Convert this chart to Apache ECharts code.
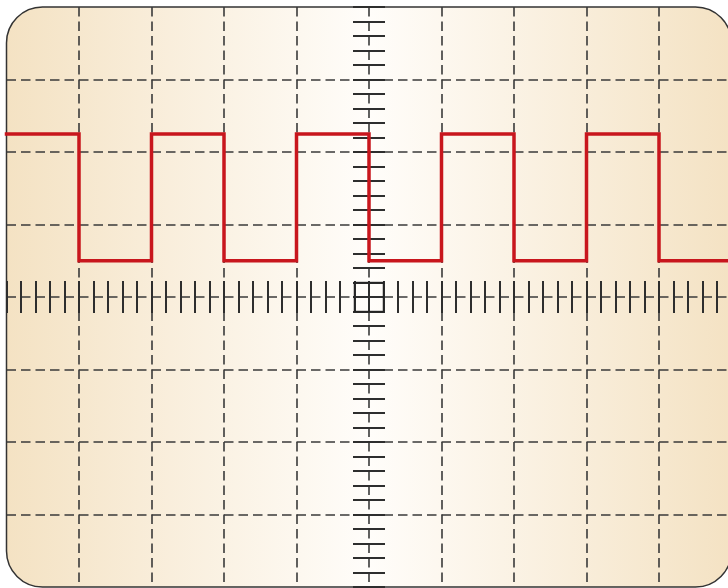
<!DOCTYPE html>
<html>
<head>
<meta charset="utf-8">
<script src="https://cdn.jsdelivr.net/npm/echarts@6/dist/echarts.min.js"></script>
<style>
html,body{margin:0;padding:0;background:#fff;}
#c{width:728px;height:588px;}
</style>
</head>
<body>
<div id="c"></div>
<script>
// Data (in screen divisions)
var stepTimes = [-5, -4, -3, -2, -1, 0, 1, 2, 3, 4, 5];
var stepLevels = [2.25, 0.5, 2.25, 0.5, 2.25, 0.5, 2.25, 0.5, 2.25, 0.5, 0.5];
var xRange = [-5, 5];
var yRange = [-4, 4];
var centerMark = [[0, 0]];

var waveData = stepTimes.map(function (t, i) { return [t, stepLevels[i]]; });

var GL = 6.5, GT = 7, GW = 725, GH = 580;
var dashStyle = { type: [9.5, 5], color: '#3a3a3a', width: 1.6 };
var tickStyle = { color: '#2e2e2e', width: 2 };

function tickAxis(inside, onZeroIdx, range) {
  return {
    type: 'value', min: range[0], max: range[1], interval: 0.2,
    axisLine: { show: false, onZero: true, onZeroAxisIndex: onZeroIdx },
    axisTick: { show: true, inside: inside, length: 16, lineStyle: tickStyle },
    axisLabel: { show: false },
    splitLine: { show: false }
  };
}

var chart = echarts.init(document.getElementById('c'), null, { renderer: 'canvas' });
chart.setOption({
  animation: false,
  backgroundColor: '#ffffff',
  graphic: [{
    type: 'rect',
    z: -10,
    silent: true,
    shape: { x: GL, y: GT, width: GW, height: GH, r: 36 },
    style: {
      fill: new echarts.graphic.LinearGradient(0, 0, 1, 0, [
        { offset: 0, color: '#f4e2c3' },
        { offset: 0.5, color: '#fffdfa' },
        { offset: 1, color: '#f4e2c3' }
      ]),
      stroke: '#333',
      lineWidth: 1.5
    }
  }],
  grid: { left: GL, top: GT, width: GW, height: GH, containLabel: false, outerBoundsMode: 'none' },
  xAxis: [
    {
      type: 'value', min: xRange[0], max: xRange[1], interval: 1,
      axisLine: { show: false }, axisTick: { show: false }, axisLabel: { show: false },
      splitLine: { show: true, showMinLine: false, showMaxLine: false, lineStyle: dashStyle }
    },
    tickAxis(true, 0, xRange), tickAxis(false, 0, xRange)
  ],
  yAxis: [
    {
      type: 'value', min: yRange[0], max: yRange[1], interval: 1,
      axisLine: { show: false }, axisTick: { show: false }, axisLabel: { show: false },
      splitLine: { show: true, showMinLine: false, showMaxLine: false, lineStyle: dashStyle }
    },
    tickAxis(true, 0, yRange), tickAxis(false, 0, yRange)
  ],
  series: [
    {
      type: 'scatter',
      data: centerMark,
      symbol: 'rect',
      symbolSize: 29,
      silent: true,
      itemStyle: { color: 'rgba(0,0,0,0)', borderColor: '#222', borderWidth: 1.6 },
      z: 3
    },
    {
      type: 'line',
      data: waveData,
      step: 'end',
      showSymbol: false,
      clip: false,
      silent: true,
      lineStyle: { color: '#c8161d', width: 3.5, cap: 'square', join: 'miter' },
      z: 5
    }
  ]
});
</script>
</body>
</html>
